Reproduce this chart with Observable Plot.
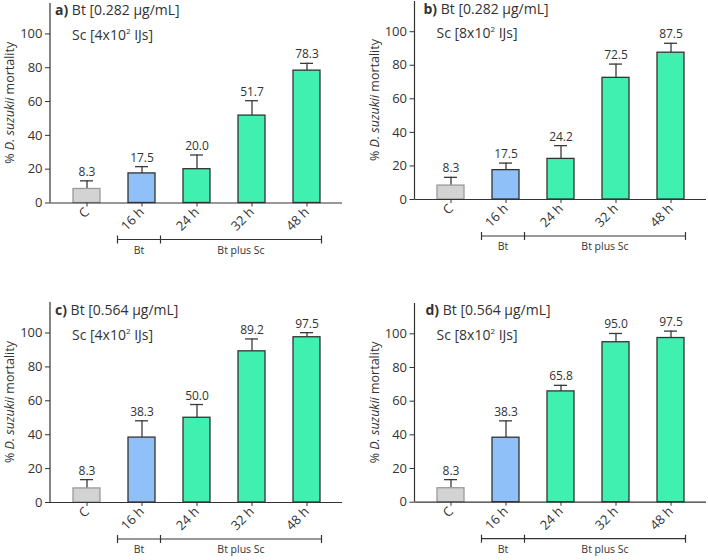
<!DOCTYPE html>
<html><head><meta charset="utf-8">
<script src="https://cdn.jsdelivr.net/npm/d3@7"></script>
<script src="https://cdn.jsdelivr.net/npm/@observablehq/plot@0.6"></script>
<style>
body{margin:0;background:#fff;font-family:"Open Sans",sans-serif}
#wrap{position:relative;width:708px;height:560px;overflow:hidden}
.panel{position:absolute}
</style>
</head><body><div id="wrap"></div>
<script>
// ---- data ----
const categories = ["C", "16 h", "24 h", "32 h", "48 h"];
const groups = ["control", "Bt", "BtSc", "BtSc", "BtSc"];
const panelLetters = ["a)", "b)", "c)", "d)"];
const btDoses = ["0.282", "0.282", "0.564", "0.564"];
const scDoses = ["4", "8", "4", "8"];
const mortalityA = [8.3, 17.5, 20.0, 51.7, 78.3];
const mortalityB = [8.3, 17.5, 24.2, 72.5, 87.5];
const mortalityC = [8.3, 38.3, 50.0, 89.2, 97.5];
const mortalityD = [8.3, 38.3, 65.8, 95.0, 97.5];
const errorA = [4.8, 4.0, 8.4, 8.8, 4.3];
const errorB = [4.9, 4.2, 7.9, 8.2, 5.6];
const errorC = [5.2, 9.9, 7.8, 7.3, 2.7];
const errorD = [5.1, 10.0, 3.6, 5.2, 4.1];
const yTicks = [0, 20, 40, 60, 80, 100];
const bracketLabels = ["Bt", "Bt plus Sc"];
const yLabelPre = "% ";
const yLabelItalic = "D. suzukii";
const yLabelPost = " mortality";

const mortality = [mortalityA, mortalityB, mortalityC, mortalityD];
const errors = [errorA, errorB, errorC, errorD];

// ---- layout ----
const layouts = [
  {left: 0,   top: 0,   mL: 50,   mR: 12, mT: 3,  mB: 77.5, titleDx: 5},
  {left: 354, top: 0,   mL: 60.5, mR: 2,  mT: 1,  mB: 81,   titleDx: 9},
  {left: 0,   top: 280, mL: 50,   mR: 12, mT: 22, mB: 58,   titleDx: 5},
  {left: 354, top: 280, mL: 60.5, mR: 2,  mT: 23, mB: 58.3, titleDx: 11}
];
const colors = {domain: ["control", "Bt", "BtSc"], range: ["#d3d3d3", "#8fc0f7", "#40f0b0"]};
const ink = "#333";
const yMax = 118;

const wrap = document.getElementById("wrap");

layouts.forEach((L, i) => {
  const rows = categories.map((c, j) => ({cat: c, group: groups[j], value: mortality[i][j], err: errors[i][j]}));
  const chart = Plot.plot({
    width: 354, height: 280,
    marginLeft: L.mL, marginRight: L.mR, marginTop: L.mT, marginBottom: L.mB,
    style: {fontFamily: "Open Sans", color: ink, background: "transparent", overflow: "visible"},
    x: {domain: categories, paddingInner: 0.51, paddingOuter: 0.39, label: null},
    y: {domain: [0, yMax], label: null},
    color: colors,
    marks: [
      Plot.ruleX(rows, {x: "cat", y1: "value", y2: d => d.value + d.err, stroke: "#3a3a3a", strokeWidth: 1.3}),
      Plot.tickY(rows, {x: "cat", y: d => d.value + d.err, insetLeft: 7, insetRight: 7, stroke: "#3a3a3a", strokeWidth: 1.3}),
      Plot.barY(rows.filter(d => d.group !== "control"), {x: "cat", y: "value", fill: "group", stroke: "#333", strokeWidth: 1.3}),
      Plot.barY(rows.filter(d => d.group === "control"), {x: "cat", y: "value", fill: "group", stroke: "#9a9a9a", strokeWidth: 1.3}),
      Plot.text(rows, {x: "cat", y: d => d.value + d.err, text: d => d.value.toFixed(1), dy: -5, lineAnchor: "bottom", fontSize: 12, fill: ink}),
      Plot.axisY({ticks: yTicks, tickSize: 5, tickPadding: 3, fontSize: 13, label: null, stroke: ink, fill: ink}),
      Plot.axisX({tickRotate: -45, tickSize: 4, tickPadding: 3, fontSize: 13, label: null, stroke: ink, fill: ink}),
      Plot.ruleY([0], {stroke: ink, strokeWidth: 1.2})
    ]
  });
  chart.classList.add("panel");
  chart.style.left = L.left + "px";
  chart.style.top = L.top + "px";
  wrap.appendChild(chart);

  const svg = d3.select(chart);
  const x = chart.scale("x");
  const y = chart.scale("y");
  const ctr = c => x.apply(c) + x.bandwidth / 2;
  const y0 = y.apply(0), y100 = y.apply(100), yTop = y.apply(yMax);

  // y axis line
  svg.append("line").attr("x1", L.mL).attr("x2", L.mL).attr("y1", yTop).attr("y2", y0)
    .attr("stroke", ink).attr("stroke-width", 1.2);

  // title
  const t1 = svg.append("text").attr("x", L.mL + L.titleDx).attr("y", Math.max(y100 - 18, 14)).attr("text-anchor", "start")
    .attr("font-size", 14).attr("fill", ink).attr("font-family", "Open Sans");
  t1.append("tspan").attr("font-weight", "bold").text(panelLetters[i]);
  t1.append("tspan").text(" Bt [" + btDoses[i] + " \u03bcg/mL]");
  const t2 = svg.append("text").attr("x", L.mL + 22).attr("y", y100 + 7).attr("text-anchor", "start")
    .attr("font-size", 14).attr("fill", ink).attr("font-family", "Open Sans");
  t2.append("tspan").text("Sc [" + scDoses[i] + "x10");
  t2.append("tspan").attr("font-size", 8).attr("dy", -6).text("2");
  t2.append("tspan").attr("dy", 6).text(" IJs]");

  // y label
  const yl = svg.append("text")
    .attr("transform", `translate(${L.mL - 36},${(y0 + yTop) / 2}) rotate(-90)`)
    .attr("text-anchor", "middle").attr("font-size", 12.5).attr("fill", ink).attr("font-family", "Open Sans");
  yl.append("tspan").text(yLabelPre);
  yl.append("tspan").attr("font-style", "italic").text(yLabelItalic);
  yl.append("tspan").text(yLabelPost);

  // bracket
  const bx0 = ctr(categories[1]) - 24, bx1 = ctr(categories[1]) + 19, bx2 = ctr(categories[4]) + 15;
  const by = y0 + 37;
  const g = svg.append("g").attr("stroke", ink).attr("stroke-width", 1.2);
  g.append("line").attr("x1", bx0).attr("x2", bx2).attr("y1", by).attr("y2", by);
  [bx0, bx1, bx2].forEach(v => g.append("line").attr("x1", v).attr("x2", v).attr("y1", by - 4).attr("y2", by + 4));
  svg.append("text").attr("x", (bx0 + bx1) / 2).attr("y", by + 14).attr("text-anchor", "middle")
    .attr("font-size", 10.5).attr("fill", ink).attr("font-family", "Open Sans").text(bracketLabels[0]);
  svg.append("text").attr("x", (bx1 + bx2) / 2).attr("y", by + 14).attr("text-anchor", "middle")
    .attr("font-size", 10.5).attr("fill", ink).attr("font-family", "Open Sans").text(bracketLabels[1]);
});
</script>
</body></html>
